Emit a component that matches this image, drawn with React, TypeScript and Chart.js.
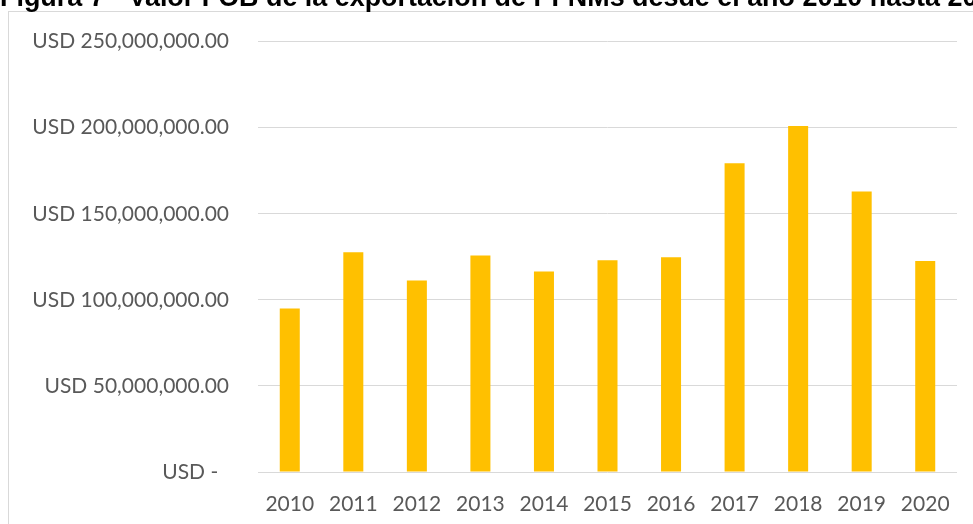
import React, { useEffect, useRef } from "react";
import { Chart, registerables } from "chart.js";

Chart.register(...registerables);

const titleText =
  "Figura 7 - Valor FOB de la exportación de PFNMs desde el año 2010 hasta 2020";
const years = ["2010", "2011", "2012", "2013", "2014", "2015", "2016", "2017", "2018", "2019", "2020"];
const fobValues = [
  95000000, 127600000, 111200000, 125700000, 116400000, 123000000, 124700000, 179400000,
  201000000, 163000000, 122500000,
];
const yMin = 0;
const yMax = 250000000;
const yStep = 50000000;

function formatUsd(v: number): string {
  if (v === 0) return "USD -  ";
  return "USD " + v.toLocaleString("en-US", { minimumFractionDigits: 2, maximumFractionDigits: 2 });
}

export default function App() {
  const canvasRef = useRef<HTMLCanvasElement | null>(null);

  useEffect(() => {
    if (!canvasRef.current) return;
    const chart = new Chart(canvasRef.current, {
      type: "bar",
      data: {
        labels: years,
        datasets: [
          {
            label: "Valor FOB",
            data: fobValues,
            backgroundColor: "#FFC000",
            borderWidth: 0,
            categoryPercentage: 1,
            barPercentage: 0.315,
          },
        ],
      },
      options: {
        responsive: false,
        animation: false,
        events: [],
        layout: { padding: { top: 39, right: 16, left: 0, bottom: 0 } },
        plugins: {
          legend: { display: false },
          title: { display: false },
          tooltip: { enabled: false },
        },
        scales: {
          x: {
            grid: { display: false },
            border: { display: false },
            ticks: {
              color: "#595959",
              font: { family: "Lato", size: 21 },
              padding: 12,
              maxRotation: 0,
            },
            afterFit: (scale: any) => {
              scale.height = 52;
            },
          },
          y: {
            min: yMin,
            max: yMax,
            grid: { color: "#d9d9d9", lineWidth: 1, drawTicks: false },
            border: { display: false },
            ticks: {
              stepSize: yStep,
              color: "#595959",
              font: { family: "Lato", size: 21 },
              padding: 29,
              callback: (v: any) => formatUsd(Number(v)),
            },
            afterFit: (scale: any) => {
              scale.width = 258;
            },
          },
        },
      },
    });
    return () => chart.destroy();
  }, []);

  return (
    <div
      style={{
        position: "fixed",
        left: 0,
        top: 0,
        width: 973,
        height: 524,
        overflow: "hidden",
        background: "#ffffff",
      }}
    >
      <div
        style={{
          position: "absolute",
          left: 8,
          top: 11,
          width: 1000,
          height: 700,
          border: "1px solid #d9d9d9",
          boxSizing: "border-box",
        }}
      />
      <canvas
        ref={canvasRef}
        width={973}
        height={524}
        style={{ position: "absolute", left: 0, top: 0, display: "block" }}
      />
      <div
        style={{
          position: "absolute",
          left: 0,
          top: -16,
          whiteSpace: "nowrap",
          fontFamily: "'Liberation Sans', Arial, sans-serif",
          fontWeight: "bold",
          fontSize: 26.9,
          lineHeight: "26.9px",
          color: "#000000",
        }}
      >
        {titleText}
      </div>
    </div>
  );
}
